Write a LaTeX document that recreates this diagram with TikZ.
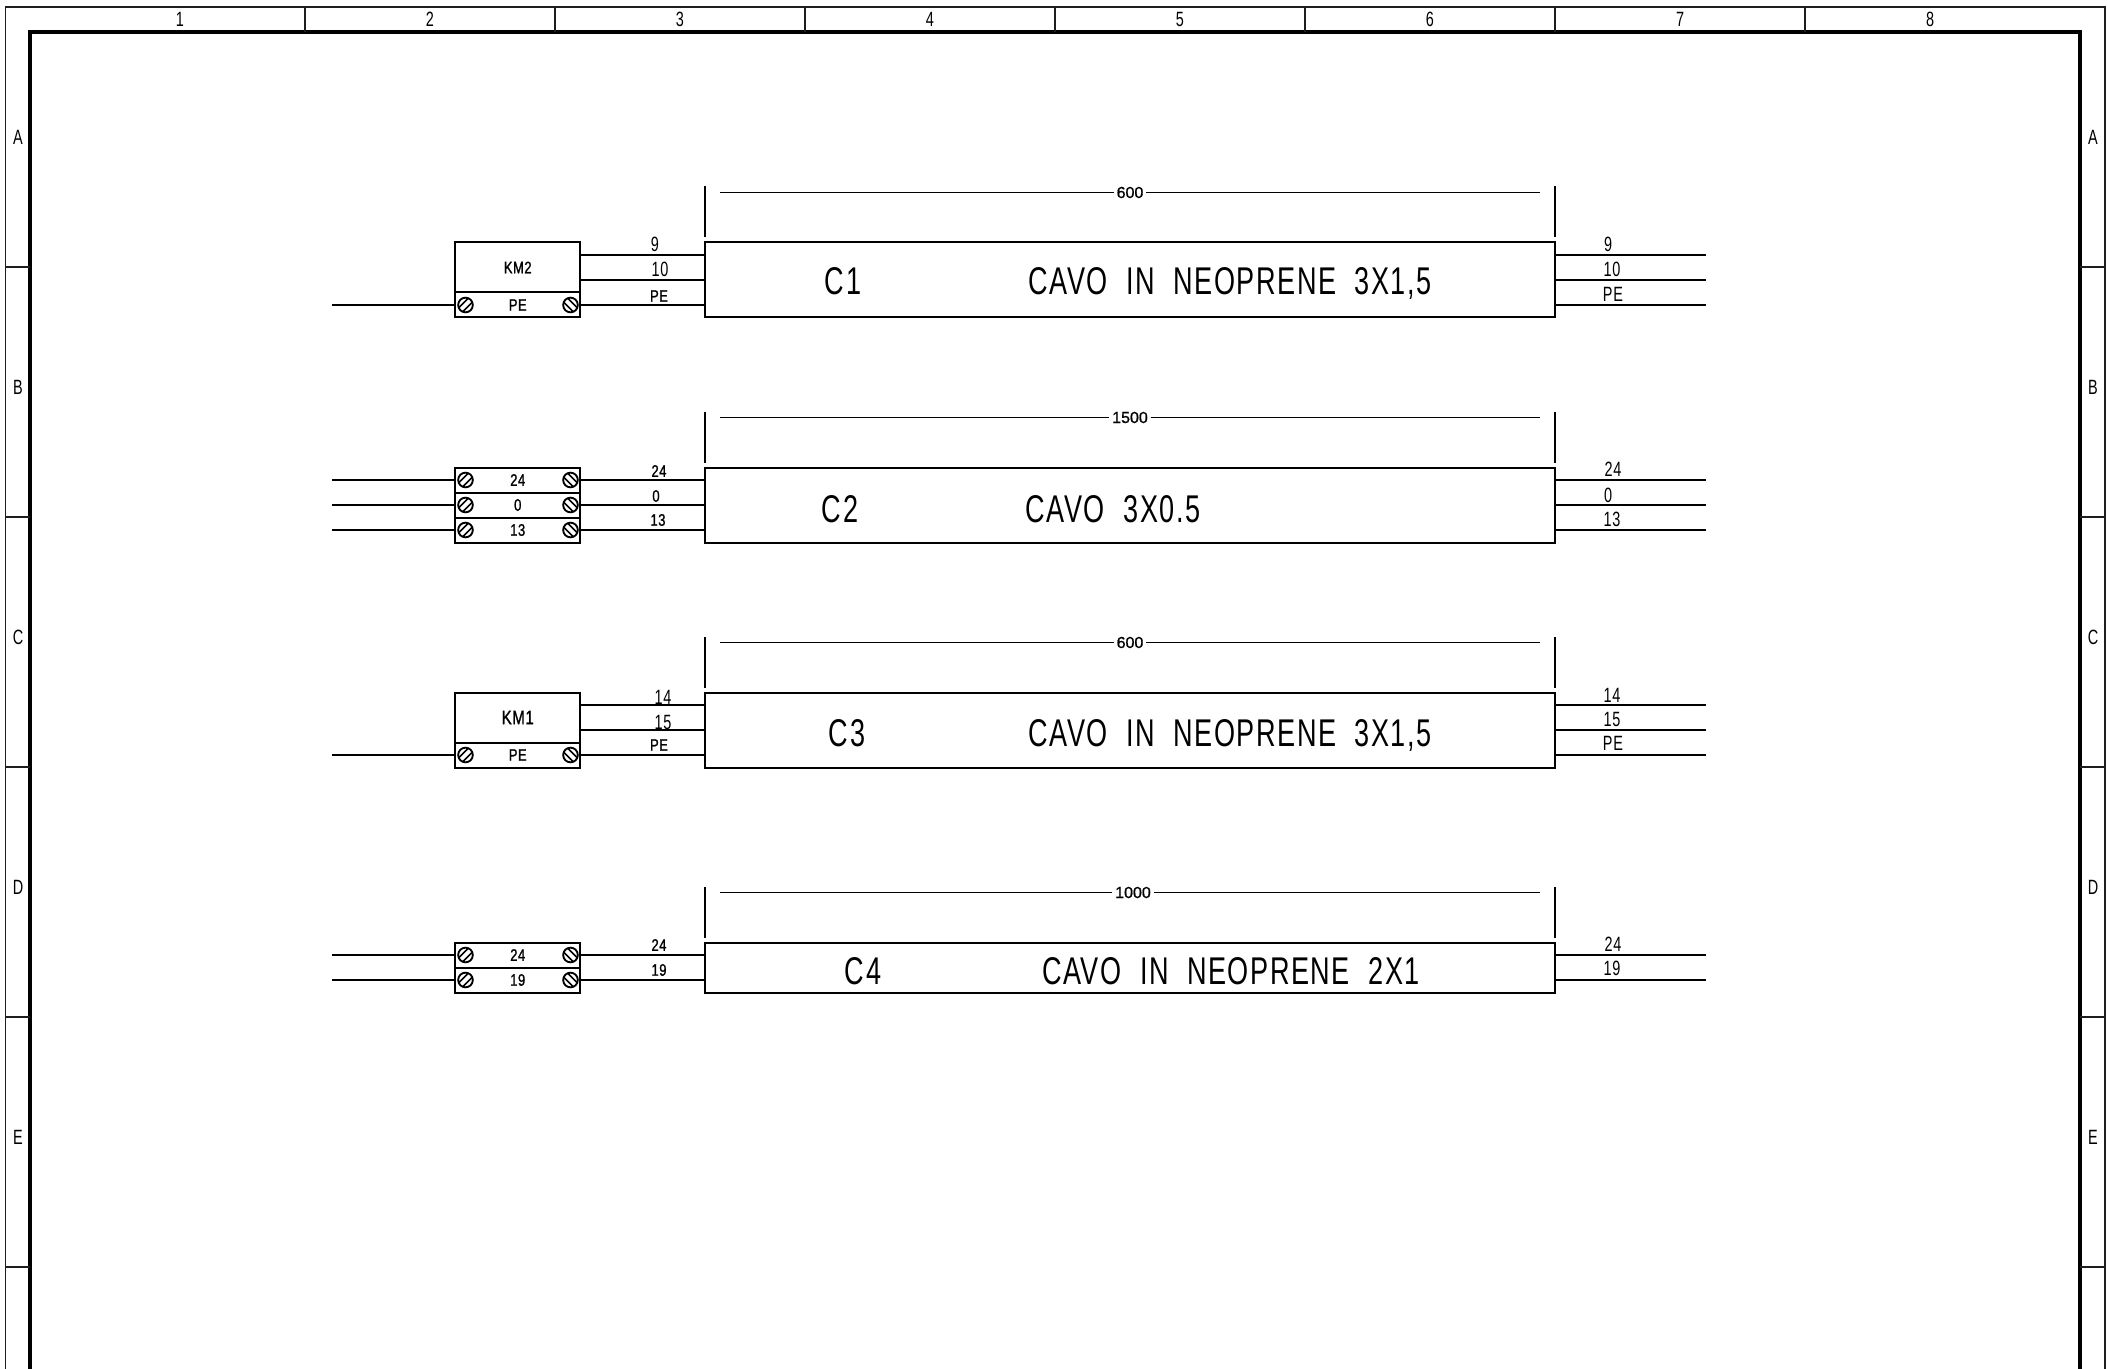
\documentclass[tikz,border=0pt]{standalone}
\usepackage{fontspec}
\newfontfamily\cadfont[FakeStretch=0.70,LetterSpace=4,WordSpace=2.05]{Liberation Sans}
\newfontfamily\smallfont[FakeStretch=0.78,LetterSpace=3,FakeBold=1.2]{Liberation Sans}
\newfontfamily\dimfont[FakeBold=0.9]{Liberation Sans}

\begin{document}
\begin{tikzpicture}[x=0.75pt,y=0.75pt,yscale=-1,xscale=1,
    wire/.style={line width=1.7pt},
    framethin/.style={line width=1.2pt,color={rgb, 255:red, 30; green, 30; blue, 30 }},
    framethick/.style={line width=3pt},
    cablebox/.style={draw,line width=1.5pt,inner sep=0pt,outer sep=0pt,minimum width=637.5pt},
    termrow/.style={draw,line width=1.5pt,inner sep=0pt,outer sep=0pt,minimum width=93.75pt,minimum height=18.75pt,smalltext},
    screwleft/.style={draw,circle,line width=1.4pt,inner sep=0pt,minimum size=11pt,
        path picture={\draw [line width=1.3pt,shift={(path picture bounding box.center)}] (-8,-4) -- (4,8) (-4,-8) -- (8,4);}},
    screwright/.style={draw,circle,line width=1.4pt,inner sep=0pt,minimum size=11pt,
        path picture={\draw [line width=1.3pt,shift={(path picture bounding box.center)}] (-8,4) -- (4,-8) (-4,8) -- (8,-4);}},
    bigtext/.style={inner sep=0pt,text depth=0pt,font=\cadfont\fontsize{29}{29}\selectfont},
    wiretext/.style={inner sep=0pt,font=\cadfont\fontsize{15.5}{15.5}\selectfont},
    smalltext/.style={font=\smallfont\fontsize{12.5}{12.5}\selectfont},
    dimtext/.style={inner sep=2pt,font=\dimfont\fontsize{12}{12}\selectfont}]
    \useasboundingbox (0,0) rectangle (2108,1369);

    % Sheet frame
    \draw [framethin] (5.5,1369) -- (5.5,7) -- (2105,7) -- (2105,1369);
    \draw [framethick] (30,1369) -- (30,32) -- (2080,32) -- (2080,1369);
    \foreach \xx in {305,555,805,1055,1305,1555,1805}
        \draw [framethin] (\xx,7) -- (\xx,32);
    \foreach \yy in {267,517,767,1017,1267} {
        \draw [framethin] (5.5,\yy) -- (30,\yy);
        \draw [framethin] (2080,\yy) -- (2105,\yy);
    }
    \foreach \nn/\xx in {1/180,2/430,3/680,4/930,5/1180,6/1430,7/1680,8/1930}
        \node (col\nn) [wiretext] at (\xx,19.5) {\nn};
    \foreach \ll/\yy in {A/137,B/387,C/637,D/887,E/1137} {
        \node (rowL\ll) [wiretext] at (18,\yy) {\ll};
        \node (rowR\ll) [wiretext] at (2093,\yy) {\ll};
    }

    % Cable boxes
    \node (cableCa) [cablebox,minimum height=56.25pt] at (1130,280) {};
    \node (cableCb) [cablebox,minimum height=56.25pt] at (1130,505) {};
    \node (cableCc) [cablebox,minimum height=56.25pt] at (1130,730) {};
    \node (cableCd) [cablebox,minimum height=37.5pt] at (1130,967.5) {};

    % Length dimensions
    \foreach \dm/\cb/\xx/\lbl in {dimCa/cableCa/1130/600,dimCb/cableCb/1130/1500,dimCc/cableCc/1130/600,dimCd/cableCd/1133/1000} {
        \node (\dm) [dimtext] at (\xx,0 |- \cb.north) [yshift=37.5pt] {\lbl};
        \coordinate (\dm-a) at ([shift={(15,-50)}]\cb.north west);
        \coordinate (\dm-b) at ([shift={(-15,-50)}]\cb.north east);
        \draw [line width=1.4pt] (\dm-a) -- (\dm) -- (\dm-b);
        \draw [wire] ([shift={(0,-5)}]\cb.north west) -- ([shift={(0,-56)}]\cb.north west);
        \draw [wire] ([shift={(0,-5)}]\cb.north east) -- ([shift={(0,-56)}]\cb.north east);
    }

    % Contactor blocks
    \node (blockKMb) [termrow,minimum height=37.5pt] at (517.75,267.5) {};
    \node (blockKMa) [termrow,minimum height=37.5pt] at (517.75,717.5) {};

    % Terminal rows with their wires
    \foreach \tb/\yy/\lbl/\cb in {tbCaP/305/PE/cableCa,tbCbA/480/24/cableCb,tbCbB/505/0/cableCb,tbCbC/530/13/cableCb,
        tbCcP/755/PE/cableCc,tbCdA/955/24/cableCd,tbCdB/980/19/cableCd} {
        \node (\tb) [termrow] at (517.75,\yy) {\lbl};
        \node (\tb-l) [screwleft] at (465.5,\yy) {};
        \node (\tb-r) [screwright] at (570.5,\yy) {};
        \coordinate (\tb-w) at (332,\yy);
        \coordinate (\tb-e) at (1706,\yy);
        \draw [wire] (\tb-w) -- (\tb.west);
        \draw [wire] (\tb.east) -- (\tb.east -| \cb.west);
        \draw [wire] (\tb.east -| \cb.east) -- (\tb-e);
    }

    % Contactor wires
    \foreach \bk/\cb/\yy in {blockKMb/cableCa/255,blockKMb/cableCa/280,blockKMa/cableCc/705,blockKMa/cableCc/730} {
        \coordinate (wire\yy) at (1706,\yy);
        \draw [wire] (\bk.east |- wire\yy) -- (\cb.west |- wire\yy);
        \draw [wire] (\cb.east |- wire\yy) -- (wire\yy);
    }

    % Text Nodes
    \node (nameKMb) [smalltext,inner sep=0pt] at (blockKMb.center) {KM2};
    \node (nameKMa) [smalltext,inner sep=0pt,font=\smallfont\fontsize{14.5}{14.5}\selectfont] at (blockKMa.center) {KM1};

    \foreach \nm/\xx/\yy/\lbl in {aa/655/244/9,ab/660/269/10,ca/663/697.5/14,cb/663/722/15,
        ra/1608/244/9,rb/1612/269/10,rc/1613/294/PE,rd/1613/469/24,re/1608/495/0,rf/1612/519/13,
        rg/1612/695/14,rh/1612/719/15,ri/1613/743/PE,rj/1613/944/24,rk/1612/968/19}
        \node (wl\nm) [wiretext] at (\xx,\yy) {\lbl};
    \foreach \nm/\xx/\yy/\lbl in {ac/659/296/PE,ba/659/471/24,bb/656/496/0,bc/658/520/13,cc/659/745/PE,da/659/945/24,db/659/970/19}
        \node (wl\nm) [smalltext,inner sep=0pt] at (\xx,\yy) {\lbl};

    \node (tagCa) [bigtext] at (843,281) {C1};
    \node (descCa) [bigtext] at (1230,281) {CAVO IN NEOPRENE 3X1,5};
    \node (tagCb) [bigtext] at (840,509) {C2};
    \node (descCb) [bigtext] at (1113,509) {CAVO 3X0.5};
    \node (tagCc) [bigtext] at (847,733) {C3};
    \node (descCc) [bigtext] at (1230,733) {CAVO IN NEOPRENE 3X1,5};
    \node (tagCd) [bigtext] at (863,971) {C4};
    \node (descCd) [bigtext] at (1231,971) {CAVO IN NEOPRENE 2X1};

\end{tikzpicture}
\end{document}
